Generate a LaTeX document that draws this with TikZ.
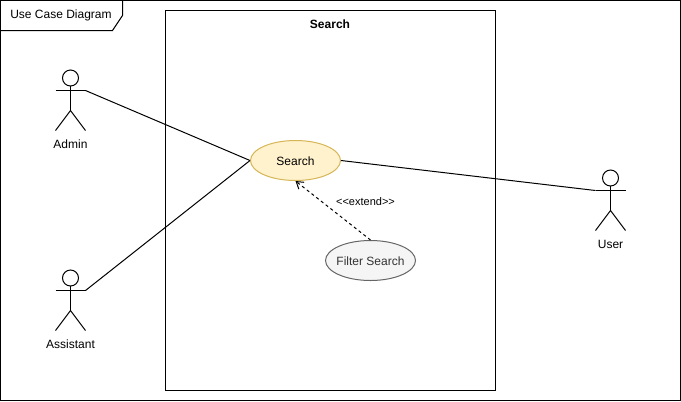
\documentclass[tikz,border=0pt]{standalone}
\usepackage{fontspec}
\setmainfont{Liberation Sans}
\usetikzlibrary{arrows.meta,shapes.geometric,calc}
\definecolor{usefill}{HTML}{FFF2CC}
\definecolor{usedraw}{HTML}{D6B656}
\definecolor{grayfill}{HTML}{F5F5F5}
\definecolor{graydraw}{HTML}{666666}
\definecolor{graytext}{HTML}{333333}
\tikzset{
  every path/.style={line width=0.75pt},
  lbl/.style={font=\fontsize{9}{11}\selectfont,inner sep=0pt,text=black},
  small/.style={font=\fontsize{8.25}{10}\selectfont,inner sep=0pt,text=black},
  usecase/.style={ellipse,draw,inner sep=-12pt,minimum width=67.5pt,minimum height=30pt,text height=8pt,text depth=0pt,font=\fontsize{9}{11}\selectfont},
  link/.style={draw=black,line width=0.75pt},
  extendlink/.style={draw=black,line width=0.75pt,dash pattern=on 2.25pt off 2.25pt,-{Straight Barb[length=5pt,width=6.5pt,line width=0.75pt]}},
}
\newcommand{\stickman}[4]{%
  \node[inner sep=0pt,minimum width=22.5pt,minimum height=45pt] (#1) at (#2,#3) {};
  \coordinate (#1-hand) at (#2+15,#3-10);
  \coordinate (#1-lhand) at (#2-15,#3-10);
  \draw[line width=0.75pt] (#2,#3-22.5) circle[radius=6pt];
  \draw (#2,#3-14.5) -- (#2,#3+10);
  \draw (#1-lhand) -- (#1-hand);
  \draw (#2-15,#3+30) -- (#2,#3+10) -- (#2+15,#3+30);
  \node[lbl] (#1-label) at (#2,#3+43.5) {#4};
}
\begin{document}
\begin{tikzpicture}[x=0.75pt,y=-0.75pt]
\useasboundingbox (0,0) rectangle (681,401);
\fill[white] (0,0) rectangle (681,401);
\draw (0.5,0.5) rectangle (680.5,400.5);
\draw (0.5,30.5) -- (112.5,30.5) -- (122.5,15.5) -- (122.5,0.5);
\node[lbl] (frame) at (61,15.5) {Use Case Diagram};
\node[draw,inner sep=0pt,minimum width=247.5pt,minimum height=285pt] (boundary) at (330.5,200.5) {};
\node[lbl,font=\fontsize{9}{11}\selectfont\bfseries] (boundarylabel) at (330,24) {Search};
\node[usecase,fill=usefill,draw=usedraw] (search) at (295.5,160.5) {Search};
\node[usecase,fill=grayfill,draw=graydraw,text=graytext] (filter) at (370.5,260.5) {Filter Search};
\stickman{admin}{70.5}{100.5}{Admin}
\stickman{assistant}{70.5}{300.5}{Assistant}
\stickman{user}{610.5}{200.5}{User}
\draw[link] (admin-hand) -- (search.west);
\draw[link] (assistant-hand) -- (search.west);
\draw[link] (user-lhand) -- (search.east);
\draw[extendlink] (filter.north) -- (search.south);
\node[small] (extendlabel) at (365.5,201.6) {<{}<extend>{}>};
\end{tikzpicture}
\end{document}
